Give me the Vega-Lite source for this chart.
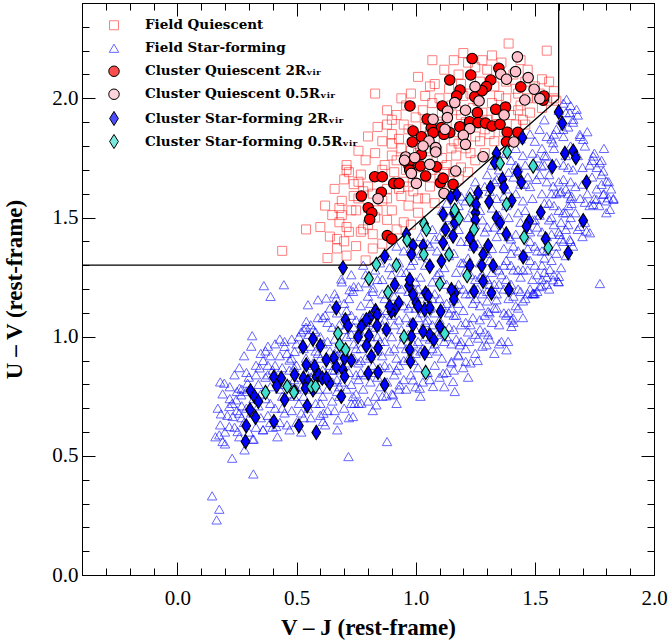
{
"$schema":"https://vega.github.io/schema/vega-lite/v6.json",
"width":572,"height":572,"autosize":"none",
"padding":{"left":82,"top":3,"right":15,"bottom":66},
"background":"white",
"datasets":{
"names":[{"c":"FQ","n":"Field Quiescent"},{"c":"FS","n":"Field Star-forming"},{"c":"CQ2","n":"Cluster Quiescent 2Rᵥᵢᵣ"},{"c":"CQ05","n":"Cluster Quiescent 0.5Rᵥᵢᵣ"},{"c":"CS2","n":"Cluster Star-forming 2Rᵥᵢᵣ"},{"c":"CS05","n":"Cluster Star-forming 0.5Rᵥᵢᵣ"}],
"lines":[{"x":-0.4,"y":1.3,"x2":0.807,"y2":1.3},{"x":0.807,"y":1.3,"x2":1.6,"y2":1.998},{"x":1.6,"y":1.998,"x2":1.6,"y2":2.4}],
"field":[
{"x":1.39,"y":2.23,"c":"FQ"},{"x":1.55,"y":2.2,"c":"FQ"},{"x":1.2,"y":2.19,"c":"FQ"},{"x":1.32,"y":2.18,"c":"FQ"},{"x":1.07,"y":2.16,"c":"FQ"},{"x":1.01,"y":2.09,"c":"FQ"},{"x":0.83,"y":2.02,"c":"FQ"},{"x":1.53,"y":2.08,"c":"FQ"},{"x":0.84,"y":1.88,"c":"FQ"},{"x":0.88,"y":1.89,"c":"FQ"},{"x":1.04,"y":2.01,"c":"FQ"},{"x":0.71,"y":1.72,"c":"FQ"},{"x":0.72,"y":1.69,"c":"FQ"},{"x":0.65,"y":1.51,"c":"FQ"},{"x":0.68,"y":1.54,"c":"FQ"},{"x":0.67,"y":1.41,"c":"FQ"},{"x":0.71,"y":1.34,"c":"FQ"},{"x":0.82,"y":1.37,"c":"FQ"},{"x":0.77,"y":1.44,"c":"FQ"},{"x":0.75,"y":1.53,"c":"FQ"},{"x":0.9,"y":1.81,"c":"FQ"},{"x":0.93,"y":1.83,"c":"FQ"},{"x":1.58,"y":2.03,"c":"FQ"},{"x":1.58,"y":2.0,"c":"FQ"},{"x":0.44,"y":1.36,"c":"FQ"},{"x":0.54,"y":1.45,"c":"FQ"},{"x":0.71,"y":1.46,"c":"FQ"},{"x":0.76,"y":1.65,"c":"FQ"},{"x":0.82,"y":1.43,"c":"FQ"},{"x":0.71,"y":1.7,"c":"FQ"},
{"x":1.12,"y":2.12,"c":"FQ"},{"x":1.25,"y":2.13,"c":"FQ"},{"x":1.3,"y":2.12,"c":"FQ"},{"x":1.36,"y":2.15,"c":"FQ"},{"x":1.41,"y":2.1,"c":"FQ"},{"x":1.47,"y":2.12,"c":"FQ"},{"x":1.18,"y":2.1,"c":"FQ"},{"x":1.22,"y":2.15,"c":"FQ"},{"x":1.16,"y":2.16,"c":"FQ"},{"x":1.28,"y":2.16,"c":"FQ"},{"x":1.44,"y":2.16,"c":"FQ"},
{"x":1.06,"y":2.05,"c":"FQ"},{"x":1.08,"y":2.06,"c":"FQ"},{"x":1.14,"y":2.04,"c":"FQ"},{"x":1.19,"y":2.06,"c":"FQ"},{"x":1.23,"y":2.02,"c":"FQ"},{"x":1.27,"y":2.07,"c":"FQ"},{"x":1.33,"y":2.05,"c":"FQ"},{"x":1.38,"y":2.07,"c":"FQ"},{"x":1.43,"y":2.02,"c":"FQ"},{"x":1.5,"y":2.05,"c":"FQ"},{"x":1.56,"y":2.07,"c":"FQ"},{"x":1.47,"y":2.0,"c":"FQ"},{"x":1.52,"y":2.02,"c":"FQ"},{"x":1.35,"y":2.01,"c":"FQ"},{"x":1.2,"y":2.01,"c":"FQ"},{"x":1.1,"y":2.0,"c":"FQ"},{"x":0.98,"y":2.02,"c":"FQ"},{"x":0.94,"y":2.0,"c":"FQ"},
{"x":0.88,"y":1.95,"c":"FQ"},{"x":0.92,"y":1.93,"c":"FQ"},{"x":0.96,"y":1.97,"c":"FQ"},{"x":1.0,"y":1.92,"c":"FQ"},{"x":1.03,"y":1.95,"c":"FQ"},{"x":1.07,"y":1.98,"c":"FQ"},{"x":1.11,"y":1.94,"c":"FQ"},{"x":1.15,"y":1.97,"c":"FQ"},{"x":1.19,"y":1.93,"c":"FQ"},{"x":1.24,"y":1.96,"c":"FQ"},{"x":1.28,"y":1.94,"c":"FQ"},{"x":1.32,"y":1.98,"c":"FQ"},{"x":1.36,"y":1.95,"c":"FQ"},{"x":1.4,"y":1.93,"c":"FQ"},{"x":1.44,"y":1.97,"c":"FQ"},{"x":1.48,"y":1.94,"c":"FQ"},{"x":1.53,"y":1.96,"c":"FQ"},{"x":1.59,"y":1.99,"c":"FQ"},{"x":1.05,"y":1.91,"c":"FQ"},{"x":1.3,"y":1.91,"c":"FQ"},{"x":1.45,"y":1.91,"c":"FQ"},{"x":0.9,"y":1.91,"c":"FQ"},
{"x":0.8,"y":1.84,"c":"FQ"},{"x":0.86,"y":1.82,"c":"FQ"},{"x":0.9,"y":1.85,"c":"FQ"},{"x":0.97,"y":1.87,"c":"FQ"},{"x":1.0,"y":1.84,"c":"FQ"},{"x":1.04,"y":1.88,"c":"FQ"},{"x":1.08,"y":1.83,"c":"FQ"},{"x":1.12,"y":1.86,"c":"FQ"},{"x":1.16,"y":1.82,"c":"FQ"},{"x":1.2,"y":1.88,"c":"FQ"},{"x":1.25,"y":1.84,"c":"FQ"},{"x":1.29,"y":1.87,"c":"FQ"},{"x":1.33,"y":1.82,"c":"FQ"},{"x":1.37,"y":1.86,"c":"FQ"},{"x":1.41,"y":1.84,"c":"FQ"},{"x":1.46,"y":1.89,"c":"FQ"},{"x":1.18,"y":1.81,"c":"FQ"},{"x":1.42,"y":1.89,"c":"FQ"},{"x":1.02,"y":1.8,"c":"FQ"},{"x":0.95,"y":1.89,"c":"FQ"},
{"x":0.76,"y":1.78,"c":"FQ"},{"x":0.79,"y":1.74,"c":"FQ"},{"x":0.83,"y":1.77,"c":"FQ"},{"x":0.87,"y":1.72,"c":"FQ"},{"x":0.9,"y":1.76,"c":"FQ"},{"x":0.94,"y":1.79,"c":"FQ"},{"x":0.97,"y":1.73,"c":"FQ"},{"x":1.01,"y":1.77,"c":"FQ"},{"x":1.05,"y":1.74,"c":"FQ"},{"x":1.09,"y":1.78,"c":"FQ"},{"x":1.13,"y":1.72,"c":"FQ"},{"x":1.17,"y":1.76,"c":"FQ"},{"x":1.21,"y":1.79,"c":"FQ"},{"x":1.25,"y":1.74,"c":"FQ"},{"x":1.29,"y":1.77,"c":"FQ"},
{"x":0.66,"y":1.62,"c":"FQ"},{"x":0.7,"y":1.66,"c":"FQ"},{"x":0.74,"y":1.64,"c":"FQ"},{"x":0.77,"y":1.68,"c":"FQ"},{"x":0.8,"y":1.63,"c":"FQ"},{"x":0.84,"y":1.67,"c":"FQ"},{"x":0.88,"y":1.62,"c":"FQ"},{"x":0.91,"y":1.69,"c":"FQ"},{"x":0.95,"y":1.65,"c":"FQ"},{"x":0.99,"y":1.61,"c":"FQ"},{"x":1.02,"y":1.68,"c":"FQ"},{"x":1.06,"y":1.63,"c":"FQ"},{"x":1.1,"y":1.67,"c":"FQ"},{"x":1.14,"y":1.61,"c":"FQ"},{"x":1.18,"y":1.66,"c":"FQ"},{"x":1.22,"y":1.69,"c":"FQ"},{"x":0.78,"y":1.61,"c":"FQ"},{"x":0.93,"y":1.62,"c":"FQ"},
{"x":0.62,"y":1.55,"c":"FQ"},{"x":0.69,"y":1.57,"c":"FQ"},{"x":0.73,"y":1.53,"c":"FQ"},{"x":0.76,"y":1.58,"c":"FQ"},{"x":0.8,"y":1.54,"c":"FQ"},{"x":0.83,"y":1.5,"c":"FQ"},{"x":0.86,"y":1.57,"c":"FQ"},{"x":0.9,"y":1.53,"c":"FQ"},{"x":0.94,"y":1.59,"c":"FQ"},{"x":0.97,"y":1.55,"c":"FQ"},{"x":1.01,"y":1.52,"c":"FQ"},{"x":1.04,"y":1.58,"c":"FQ"},{"x":1.08,"y":1.56,"c":"FQ"},
{"x":0.6,"y":1.46,"c":"FQ"},{"x":0.64,"y":1.42,"c":"FQ"},{"x":0.68,"y":1.48,"c":"FQ"},{"x":0.72,"y":1.44,"c":"FQ"},{"x":0.8,"y":1.47,"c":"FQ"},{"x":0.88,"y":1.49,"c":"FQ"},{"x":0.92,"y":1.45,"c":"FQ"},{"x":0.95,"y":1.48,"c":"FQ"},{"x":0.98,"y":1.47,"c":"FQ"},{"x":0.7,"y":1.4,"c":"FQ"},
{"x":0.63,"y":1.33,"c":"FQ"},{"x":0.67,"y":1.37,"c":"FQ"},{"x":0.75,"y":1.38,"c":"FQ"},{"x":0.79,"y":1.32,"c":"FQ"},{"x":0.86,"y":1.39,"c":"FQ"},
{"x":0.92,"y":1.74,"c":"FQ"},{"x":0.96,"y":1.7,"c":"FQ"},{"x":1.0,"y":1.71,"c":"FQ"},{"x":1.04,"y":1.79,"c":"FQ"},{"x":1.07,"y":1.7,"c":"FQ"},{"x":1.11,"y":1.75,"c":"FQ"},{"x":1.15,"y":1.79,"c":"FQ"},{"x":1.19,"y":1.71,"c":"FQ"},{"x":1.23,"y":1.77,"c":"FQ"},{"x":1.27,"y":1.82,"c":"FQ"},{"x":1.31,"y":1.85,"c":"FQ"},{"x":1.35,"y":1.89,"c":"FQ"},{"x":1.43,"y":1.95,"c":"FQ"},{"x":1.51,"y":2.0,"c":"FQ"},{"x":1.55,"y":1.99,"c":"FQ"},{"x":1.13,"y":1.9,"c":"FQ"},{"x":1.17,"y":1.95,"c":"FQ"},{"x":1.21,"y":1.9,"c":"FQ"},{"x":1.26,"y":1.99,"c":"FQ"},{"x":1.34,"y":1.93,"c":"FQ"},{"x":1.38,"y":2.0,"c":"FQ"},{"x":1.42,"y":2.04,"c":"FQ"},{"x":1.46,"y":2.07,"c":"FQ"},{"x":1.06,"y":1.86,"c":"FQ"},{"x":1.1,"y":1.89,"c":"FQ"},{"x":0.98,"y":1.78,"c":"FQ"},{"x":0.86,"y":1.7,"c":"FQ"},{"x":0.82,"y":1.6,"c":"FQ"},{"x":0.88,"y":1.58,"c":"FQ"},{"x":0.97,"y":1.63,"c":"FQ"},{"x":1.01,"y":1.58,"c":"FQ"},{"x":1.12,"y":1.69,"c":"FQ"},{"x":1.16,"y":1.69,"c":"FQ"},{"x":0.74,"y":1.59,"c":"FQ"},{"x":0.69,"y":1.51,"c":"FQ"},{"x":0.78,"y":1.45,"c":"FQ"},{"x":0.84,"y":1.53,"c":"FQ"},
{"x":0.16,"y":0.58,"c":"FS"},{"x":0.18,"y":0.63,"c":"FS"},{"x":0.2,"y":0.6,"c":"FS"},{"x":0.17,"y":0.7,"c":"FS"},{"x":0.21,"y":0.67,"c":"FS"},{"x":0.23,"y":0.72,"c":"FS"},{"x":0.19,"y":0.76,"c":"FS"},{"x":0.24,"y":0.62,"c":"FS"},{"x":0.22,"y":0.79,"c":"FS"},{"x":0.25,"y":0.69,"c":"FS"},{"x":0.2,"y":0.55,"c":"FS"},{"x":0.24,"y":0.84,"c":"FS"},{"x":0.18,"y":0.81,"c":"FS"},
{"x":0.26,"y":0.58,"c":"FS"},{"x":0.28,"y":0.64,"c":"FS"},{"x":0.27,"y":0.71,"c":"FS"},{"x":0.29,"y":0.77,"c":"FS"},{"x":0.31,"y":0.68,"c":"FS"},{"x":0.33,"y":0.62,"c":"FS"},{"x":0.3,"y":0.83,"c":"FS"},{"x":0.32,"y":0.74,"c":"FS"},{"x":0.34,"y":0.8,"c":"FS"},{"x":0.26,"y":0.87,"c":"FS"},{"x":0.28,"y":0.92,"c":"FS"},{"x":0.33,"y":0.88,"c":"FS"},{"x":0.35,"y":0.66,"c":"FS"},{"x":0.3,"y":0.6,"c":"FS"},{"x":0.27,"y":0.78,"c":"FS"},{"x":0.35,"y":0.93,"c":"FS"},{"x":0.31,"y":0.96,"c":"FS"},{"x":0.34,"y":0.71,"c":"FS"},{"x":0.29,"y":0.85,"c":"FS"},{"x":0.32,"y":0.57,"c":"FS"},
{"x":0.36,"y":0.61,"c":"FS"},{"x":0.38,"y":0.67,"c":"FS"},{"x":0.37,"y":0.74,"c":"FS"},{"x":0.39,"y":0.79,"c":"FS"},{"x":0.41,"y":0.7,"c":"FS"},{"x":0.43,"y":0.64,"c":"FS"},{"x":0.4,"y":0.86,"c":"FS"},{"x":0.42,"y":0.81,"c":"FS"},{"x":0.44,"y":0.75,"c":"FS"},{"x":0.36,"y":0.9,"c":"FS"},{"x":0.38,"y":0.96,"c":"FS"},{"x":0.43,"y":0.92,"c":"FS"},{"x":0.45,"y":0.68,"c":"FS"},{"x":0.4,"y":0.62,"c":"FS"},{"x":0.37,"y":0.83,"c":"FS"},{"x":0.45,"y":0.98,"c":"FS"},{"x":0.41,"y":0.97,"c":"FS"},{"x":0.44,"y":0.87,"c":"FS"},{"x":0.39,"y":0.72,"c":"FS"},{"x":0.42,"y":0.58,"c":"FS"},{"x":0.37,"y":0.94,"c":"FS"},{"x":0.43,"y":0.99,"c":"FS"},{"x":0.38,"y":0.88,"c":"FS"},{"x":0.45,"y":0.8,"c":"FS"},
{"x":0.46,"y":0.63,"c":"FS"},{"x":0.48,"y":0.69,"c":"FS"},{"x":0.47,"y":0.76,"c":"FS"},{"x":0.49,"y":0.82,"c":"FS"},{"x":0.51,"y":0.72,"c":"FS"},{"x":0.53,"y":0.66,"c":"FS"},{"x":0.5,"y":0.88,"c":"FS"},{"x":0.52,"y":0.79,"c":"FS"},{"x":0.54,"y":0.85,"c":"FS"},{"x":0.46,"y":0.93,"c":"FS"},{"x":0.48,"y":0.99,"c":"FS"},{"x":0.53,"y":0.95,"c":"FS"},{"x":0.55,"y":0.7,"c":"FS"},{"x":0.5,"y":0.64,"c":"FS"},{"x":0.47,"y":0.86,"c":"FS"},{"x":0.55,"y":1.01,"c":"FS"},{"x":0.51,"y":1.0,"c":"FS"},{"x":0.54,"y":0.91,"c":"FS"},{"x":0.49,"y":0.75,"c":"FS"},{"x":0.52,"y":1.02,"c":"FS"},{"x":0.53,"y":1.03,"c":"FS"},{"x":0.48,"y":0.91,"c":"FS"},{"x":0.55,"y":0.78,"c":"FS"},{"x":0.5,"y":0.97,"c":"FS"},{"x":0.52,"y":0.6,"c":"FS"},{"x":0.54,"y":1.04,"c":"FS"},
{"x":0.56,"y":0.66,"c":"FS"},{"x":0.58,"y":0.72,"c":"FS"},{"x":0.57,"y":0.79,"c":"FS"},{"x":0.59,"y":0.85,"c":"FS"},{"x":0.61,"y":0.75,"c":"FS"},{"x":0.63,"y":0.69,"c":"FS"},{"x":0.6,"y":0.91,"c":"FS"},{"x":0.62,"y":0.82,"c":"FS"},{"x":0.64,"y":0.88,"c":"FS"},{"x":0.56,"y":0.96,"c":"FS"},{"x":0.58,"y":1.02,"c":"FS"},{"x":0.63,"y":0.98,"c":"FS"},{"x":0.65,"y":0.73,"c":"FS"},{"x":0.6,"y":0.67,"c":"FS"},{"x":0.57,"y":0.89,"c":"FS"},{"x":0.65,"y":1.04,"c":"FS"},{"x":0.61,"y":1.08,"c":"FS"},{"x":0.64,"y":0.94,"c":"FS"},{"x":0.59,"y":0.78,"c":"FS"},{"x":0.62,"y":1.09,"c":"FS"},{"x":0.56,"y":1.05,"c":"FS"},{"x":0.63,"y":1.06,"c":"FS"},{"x":0.58,"y":0.94,"c":"FS"},{"x":0.65,"y":0.81,"c":"FS"},{"x":0.6,"y":1.0,"c":"FS"},{"x":0.57,"y":1.03,"c":"FS"},{"x":0.62,"y":0.63,"c":"FS"},{"x":0.64,"y":1.12,"c":"FS"},{"x":0.59,"y":1.08,"c":"FS"},{"x":0.61,"y":0.86,"c":"FS"},{"x":0.56,"y":0.83,"c":"FS"},
{"x":0.66,"y":0.69,"c":"FS"},{"x":0.68,"y":0.75,"c":"FS"},{"x":0.67,"y":0.82,"c":"FS"},{"x":0.69,"y":0.88,"c":"FS"},{"x":0.71,"y":0.78,"c":"FS"},{"x":0.73,"y":0.72,"c":"FS"},{"x":0.7,"y":0.94,"c":"FS"},{"x":0.72,"y":0.85,"c":"FS"},{"x":0.74,"y":0.91,"c":"FS"},{"x":0.66,"y":0.99,"c":"FS"},{"x":0.68,"y":1.05,"c":"FS"},{"x":0.73,"y":1.01,"c":"FS"},{"x":0.75,"y":0.76,"c":"FS"},{"x":0.7,"y":0.7,"c":"FS"},{"x":0.67,"y":0.92,"c":"FS"},{"x":0.75,"y":1.07,"c":"FS"},{"x":0.71,"y":1.11,"c":"FS"},{"x":0.74,"y":0.97,"c":"FS"},{"x":0.69,"y":0.81,"c":"FS"},{"x":0.72,"y":1.16,"c":"FS"},{"x":0.66,"y":1.18,"c":"FS"},{"x":0.73,"y":1.09,"c":"FS"},{"x":0.68,"y":0.97,"c":"FS"},{"x":0.75,"y":0.84,"c":"FS"},{"x":0.7,"y":1.03,"c":"FS"},{"x":0.67,"y":1.1,"c":"FS"},{"x":0.72,"y":0.66,"c":"FS"},{"x":0.74,"y":1.21,"c":"FS"},{"x":0.69,"y":1.23,"c":"FS"},{"x":0.71,"y":0.89,"c":"FS"},{"x":0.66,"y":0.86,"c":"FS"},{"x":0.73,"y":1.26,"c":"FS"},{"x":0.7,"y":1.14,"c":"FS"},
{"x":0.76,"y":0.72,"c":"FS"},{"x":0.78,"y":0.78,"c":"FS"},{"x":0.77,"y":0.85,"c":"FS"},{"x":0.79,"y":0.91,"c":"FS"},{"x":0.81,"y":0.81,"c":"FS"},{"x":0.83,"y":0.75,"c":"FS"},{"x":0.8,"y":0.97,"c":"FS"},{"x":0.82,"y":0.88,"c":"FS"},{"x":0.84,"y":0.94,"c":"FS"},{"x":0.76,"y":1.02,"c":"FS"},{"x":0.78,"y":1.08,"c":"FS"},{"x":0.83,"y":1.04,"c":"FS"},{"x":0.85,"y":0.79,"c":"FS"},{"x":0.8,"y":0.73,"c":"FS"},{"x":0.77,"y":0.95,"c":"FS"},{"x":0.85,"y":1.1,"c":"FS"},{"x":0.81,"y":1.14,"c":"FS"},{"x":0.84,"y":1.0,"c":"FS"},{"x":0.79,"y":0.84,"c":"FS"},{"x":0.82,"y":1.19,"c":"FS"},{"x":0.76,"y":1.21,"c":"FS"},{"x":0.83,"y":1.12,"c":"FS"},{"x":0.78,"y":1.0,"c":"FS"},{"x":0.85,"y":0.87,"c":"FS"},{"x":0.8,"y":1.06,"c":"FS"},{"x":0.77,"y":1.13,"c":"FS"},{"x":0.82,"y":0.69,"c":"FS"},{"x":0.84,"y":1.24,"c":"FS"},{"x":0.79,"y":1.26,"c":"FS"},{"x":0.81,"y":0.92,"c":"FS"},{"x":0.76,"y":0.89,"c":"FS"},{"x":0.83,"y":1.28,"c":"FS"},{"x":0.8,"y":1.17,"c":"FS"},{"x":0.78,"y":1.3,"c":"FS"},{"x":0.85,"y":1.31,"c":"FS"},
{"x":0.86,"y":0.75,"c":"FS"},{"x":0.88,"y":0.81,"c":"FS"},{"x":0.87,"y":0.88,"c":"FS"},{"x":0.89,"y":0.94,"c":"FS"},{"x":0.91,"y":0.84,"c":"FS"},{"x":0.93,"y":0.78,"c":"FS"},{"x":0.9,"y":1.0,"c":"FS"},{"x":0.92,"y":0.91,"c":"FS"},{"x":0.94,"y":0.97,"c":"FS"},{"x":0.86,"y":1.05,"c":"FS"},{"x":0.88,"y":1.11,"c":"FS"},{"x":0.93,"y":1.07,"c":"FS"},{"x":0.95,"y":0.82,"c":"FS"},{"x":0.9,"y":0.76,"c":"FS"},{"x":0.87,"y":0.98,"c":"FS"},{"x":0.95,"y":1.13,"c":"FS"},{"x":0.91,"y":1.17,"c":"FS"},{"x":0.94,"y":1.03,"c":"FS"},{"x":0.89,"y":0.87,"c":"FS"},{"x":0.92,"y":1.22,"c":"FS"},{"x":0.86,"y":1.24,"c":"FS"},{"x":0.93,"y":1.15,"c":"FS"},{"x":0.88,"y":1.03,"c":"FS"},{"x":0.95,"y":0.9,"c":"FS"},{"x":0.9,"y":1.09,"c":"FS"},{"x":0.87,"y":1.16,"c":"FS"},{"x":0.92,"y":0.72,"c":"FS"},{"x":0.94,"y":1.27,"c":"FS"},{"x":0.89,"y":1.29,"c":"FS"},{"x":0.91,"y":0.95,"c":"FS"},{"x":0.86,"y":0.92,"c":"FS"},{"x":0.93,"y":1.31,"c":"FS"},{"x":0.9,"y":1.2,"c":"FS"},{"x":0.88,"y":1.34,"c":"FS"},{"x":0.95,"y":1.36,"c":"FS"},{"x":0.92,"y":1.38,"c":"FS"},
{"x":0.96,"y":0.78,"c":"FS"},{"x":0.98,"y":0.84,"c":"FS"},{"x":0.97,"y":0.91,"c":"FS"},{"x":0.99,"y":0.97,"c":"FS"},{"x":1.01,"y":0.87,"c":"FS"},{"x":1.03,"y":0.81,"c":"FS"},{"x":1.0,"y":1.03,"c":"FS"},{"x":1.02,"y":0.94,"c":"FS"},{"x":1.04,"y":1.0,"c":"FS"},{"x":0.96,"y":1.08,"c":"FS"},{"x":0.98,"y":1.14,"c":"FS"},{"x":1.03,"y":1.1,"c":"FS"},{"x":1.05,"y":0.85,"c":"FS"},{"x":1.0,"y":0.79,"c":"FS"},{"x":0.97,"y":1.01,"c":"FS"},{"x":1.05,"y":1.16,"c":"FS"},{"x":1.01,"y":1.2,"c":"FS"},{"x":1.04,"y":1.06,"c":"FS"},{"x":0.99,"y":0.9,"c":"FS"},{"x":1.02,"y":1.25,"c":"FS"},{"x":0.96,"y":1.27,"c":"FS"},{"x":1.03,"y":1.18,"c":"FS"},{"x":0.98,"y":1.06,"c":"FS"},{"x":1.05,"y":0.93,"c":"FS"},{"x":1.0,"y":1.12,"c":"FS"},{"x":0.97,"y":1.19,"c":"FS"},{"x":1.02,"y":0.75,"c":"FS"},{"x":1.04,"y":1.3,"c":"FS"},{"x":0.99,"y":1.32,"c":"FS"},{"x":1.01,"y":0.98,"c":"FS"},{"x":0.96,"y":0.95,"c":"FS"},{"x":1.03,"y":1.34,"c":"FS"},{"x":1.0,"y":1.23,"c":"FS"},{"x":0.98,"y":1.37,"c":"FS"},{"x":1.05,"y":1.39,"c":"FS"},{"x":1.02,"y":1.42,"c":"FS"},{"x":1.04,"y":1.46,"c":"FS"},{"x":0.97,"y":1.41,"c":"FS"},
{"x":1.06,"y":0.82,"c":"FS"},{"x":1.08,"y":0.88,"c":"FS"},{"x":1.07,"y":0.95,"c":"FS"},{"x":1.09,"y":1.01,"c":"FS"},{"x":1.11,"y":0.91,"c":"FS"},{"x":1.13,"y":0.85,"c":"FS"},{"x":1.1,"y":1.07,"c":"FS"},{"x":1.12,"y":0.98,"c":"FS"},{"x":1.14,"y":1.04,"c":"FS"},{"x":1.06,"y":1.12,"c":"FS"},{"x":1.08,"y":1.18,"c":"FS"},{"x":1.13,"y":1.14,"c":"FS"},{"x":1.15,"y":0.89,"c":"FS"},{"x":1.1,"y":0.83,"c":"FS"},{"x":1.07,"y":1.05,"c":"FS"},{"x":1.15,"y":1.2,"c":"FS"},{"x":1.11,"y":1.24,"c":"FS"},{"x":1.14,"y":1.1,"c":"FS"},{"x":1.09,"y":0.94,"c":"FS"},{"x":1.12,"y":1.29,"c":"FS"},{"x":1.06,"y":1.31,"c":"FS"},{"x":1.13,"y":1.22,"c":"FS"},{"x":1.08,"y":1.1,"c":"FS"},{"x":1.15,"y":0.97,"c":"FS"},{"x":1.1,"y":1.16,"c":"FS"},{"x":1.07,"y":1.23,"c":"FS"},{"x":1.12,"y":0.79,"c":"FS"},{"x":1.14,"y":1.34,"c":"FS"},{"x":1.09,"y":1.36,"c":"FS"},{"x":1.11,"y":1.02,"c":"FS"},{"x":1.06,"y":0.99,"c":"FS"},{"x":1.13,"y":1.38,"c":"FS"},{"x":1.1,"y":1.27,"c":"FS"},{"x":1.08,"y":1.41,"c":"FS"},{"x":1.15,"y":1.43,"c":"FS"},{"x":1.12,"y":1.46,"c":"FS"},{"x":1.14,"y":1.5,"c":"FS"},{"x":1.07,"y":1.45,"c":"FS"},{"x":1.11,"y":1.53,"c":"FS"},{"x":1.13,"y":1.56,"c":"FS"},
{"x":1.16,"y":0.86,"c":"FS"},{"x":1.18,"y":0.92,"c":"FS"},{"x":1.17,"y":0.99,"c":"FS"},{"x":1.19,"y":1.05,"c":"FS"},{"x":1.21,"y":0.95,"c":"FS"},{"x":1.23,"y":0.89,"c":"FS"},{"x":1.2,"y":1.11,"c":"FS"},{"x":1.22,"y":1.02,"c":"FS"},{"x":1.24,"y":1.08,"c":"FS"},{"x":1.16,"y":1.16,"c":"FS"},{"x":1.18,"y":1.22,"c":"FS"},{"x":1.23,"y":1.18,"c":"FS"},{"x":1.25,"y":0.93,"c":"FS"},{"x":1.2,"y":0.87,"c":"FS"},{"x":1.17,"y":1.09,"c":"FS"},{"x":1.25,"y":1.24,"c":"FS"},{"x":1.21,"y":1.28,"c":"FS"},{"x":1.24,"y":1.14,"c":"FS"},{"x":1.19,"y":0.98,"c":"FS"},{"x":1.22,"y":1.33,"c":"FS"},{"x":1.16,"y":1.35,"c":"FS"},{"x":1.23,"y":1.26,"c":"FS"},{"x":1.18,"y":1.14,"c":"FS"},{"x":1.25,"y":1.01,"c":"FS"},{"x":1.2,"y":1.2,"c":"FS"},{"x":1.17,"y":1.27,"c":"FS"},{"x":1.22,"y":0.83,"c":"FS"},{"x":1.24,"y":1.38,"c":"FS"},{"x":1.19,"y":1.4,"c":"FS"},{"x":1.21,"y":1.06,"c":"FS"},{"x":1.16,"y":1.03,"c":"FS"},{"x":1.23,"y":1.42,"c":"FS"},{"x":1.2,"y":1.31,"c":"FS"},{"x":1.18,"y":1.45,"c":"FS"},{"x":1.25,"y":1.47,"c":"FS"},{"x":1.22,"y":1.5,"c":"FS"},{"x":1.24,"y":1.54,"c":"FS"},{"x":1.17,"y":1.49,"c":"FS"},{"x":1.21,"y":1.57,"c":"FS"},{"x":1.23,"y":1.61,"c":"FS"},{"x":1.19,"y":1.59,"c":"FS"},{"x":1.25,"y":1.65,"c":"FS"},
{"x":1.26,"y":0.9,"c":"FS"},{"x":1.28,"y":0.96,"c":"FS"},{"x":1.27,"y":1.03,"c":"FS"},{"x":1.29,"y":1.09,"c":"FS"},{"x":1.31,"y":0.99,"c":"FS"},{"x":1.33,"y":0.93,"c":"FS"},{"x":1.3,"y":1.15,"c":"FS"},{"x":1.32,"y":1.06,"c":"FS"},{"x":1.34,"y":1.12,"c":"FS"},{"x":1.26,"y":1.2,"c":"FS"},{"x":1.28,"y":1.26,"c":"FS"},{"x":1.33,"y":1.22,"c":"FS"},{"x":1.35,"y":0.97,"c":"FS"},{"x":1.3,"y":1.19,"c":"FS"},{"x":1.27,"y":1.13,"c":"FS"},{"x":1.35,"y":1.28,"c":"FS"},{"x":1.31,"y":1.32,"c":"FS"},{"x":1.34,"y":1.18,"c":"FS"},{"x":1.29,"y":1.02,"c":"FS"},{"x":1.32,"y":1.37,"c":"FS"},{"x":1.26,"y":1.39,"c":"FS"},{"x":1.33,"y":1.3,"c":"FS"},{"x":1.28,"y":1.18,"c":"FS"},{"x":1.35,"y":1.05,"c":"FS"},{"x":1.3,"y":1.24,"c":"FS"},{"x":1.27,"y":1.31,"c":"FS"},{"x":1.34,"y":1.42,"c":"FS"},{"x":1.29,"y":1.44,"c":"FS"},{"x":1.31,"y":1.1,"c":"FS"},{"x":1.33,"y":1.46,"c":"FS"},{"x":1.3,"y":1.35,"c":"FS"},{"x":1.28,"y":1.49,"c":"FS"},{"x":1.35,"y":1.51,"c":"FS"},{"x":1.32,"y":1.54,"c":"FS"},{"x":1.34,"y":1.58,"c":"FS"},{"x":1.27,"y":1.53,"c":"FS"},{"x":1.31,"y":1.61,"c":"FS"},{"x":1.33,"y":1.65,"c":"FS"},{"x":1.29,"y":1.63,"c":"FS"},{"x":1.35,"y":1.7,"c":"FS"},{"x":1.32,"y":1.72,"c":"FS"},{"x":1.3,"y":1.68,"c":"FS"},
{"x":1.36,"y":0.98,"c":"FS"},{"x":1.38,"y":1.09,"c":"FS"},{"x":1.37,"y":1.1,"c":"FS"},{"x":1.39,"y":1.16,"c":"FS"},{"x":1.41,"y":1.06,"c":"FS"},{"x":1.43,"y":1.12,"c":"FS"},{"x":1.4,"y":1.22,"c":"FS"},{"x":1.42,"y":1.13,"c":"FS"},{"x":1.44,"y":1.19,"c":"FS"},{"x":1.36,"y":1.26,"c":"FS"},{"x":1.38,"y":1.32,"c":"FS"},{"x":1.43,"y":1.28,"c":"FS"},{"x":1.45,"y":1.08,"c":"FS"},{"x":1.4,"y":1.07,"c":"FS"},{"x":1.37,"y":1.2,"c":"FS"},{"x":1.45,"y":1.34,"c":"FS"},{"x":1.41,"y":1.38,"c":"FS"},{"x":1.44,"y":1.25,"c":"FS"},{"x":1.39,"y":1.1,"c":"FS"},{"x":1.42,"y":1.43,"c":"FS"},{"x":1.36,"y":1.45,"c":"FS"},{"x":1.43,"y":1.36,"c":"FS"},{"x":1.38,"y":1.24,"c":"FS"},{"x":1.45,"y":1.15,"c":"FS"},{"x":1.4,"y":1.3,"c":"FS"},{"x":1.37,"y":1.37,"c":"FS"},{"x":1.44,"y":1.48,"c":"FS"},{"x":1.39,"y":1.5,"c":"FS"},{"x":1.41,"y":1.17,"c":"FS"},{"x":1.43,"y":1.52,"c":"FS"},{"x":1.4,"y":1.41,"c":"FS"},{"x":1.38,"y":1.55,"c":"FS"},{"x":1.45,"y":1.57,"c":"FS"},{"x":1.42,"y":1.6,"c":"FS"},{"x":1.44,"y":1.64,"c":"FS"},{"x":1.37,"y":1.59,"c":"FS"},{"x":1.41,"y":1.67,"c":"FS"},{"x":1.43,"y":1.71,"c":"FS"},{"x":1.39,"y":1.69,"c":"FS"},{"x":1.45,"y":1.76,"c":"FS"},{"x":1.42,"y":1.79,"c":"FS"},{"x":1.4,"y":1.74,"c":"FS"},{"x":1.44,"y":1.83,"c":"FS"},{"x":1.38,"y":1.77,"c":"FS"},
{"x":1.46,"y":1.16,"c":"FS"},{"x":1.48,"y":1.2,"c":"FS"},{"x":1.47,"y":1.18,"c":"FS"},{"x":1.49,"y":1.24,"c":"FS"},{"x":1.51,"y":1.19,"c":"FS"},{"x":1.53,"y":1.24,"c":"FS"},{"x":1.5,"y":1.3,"c":"FS"},{"x":1.52,"y":1.21,"c":"FS"},{"x":1.54,"y":1.27,"c":"FS"},{"x":1.46,"y":1.34,"c":"FS"},{"x":1.48,"y":1.4,"c":"FS"},{"x":1.53,"y":1.36,"c":"FS"},{"x":1.55,"y":1.22,"c":"FS"},{"x":1.5,"y":1.18,"c":"FS"},{"x":1.47,"y":1.28,"c":"FS"},{"x":1.55,"y":1.42,"c":"FS"},{"x":1.51,"y":1.46,"c":"FS"},{"x":1.54,"y":1.33,"c":"FS"},{"x":1.49,"y":1.18,"c":"FS"},{"x":1.52,"y":1.51,"c":"FS"},{"x":1.46,"y":1.53,"c":"FS"},{"x":1.53,"y":1.44,"c":"FS"},{"x":1.48,"y":1.32,"c":"FS"},{"x":1.55,"y":1.25,"c":"FS"},{"x":1.5,"y":1.38,"c":"FS"},{"x":1.47,"y":1.45,"c":"FS"},{"x":1.54,"y":1.56,"c":"FS"},{"x":1.49,"y":1.58,"c":"FS"},{"x":1.51,"y":1.26,"c":"FS"},{"x":1.53,"y":1.6,"c":"FS"},{"x":1.5,"y":1.49,"c":"FS"},{"x":1.48,"y":1.63,"c":"FS"},{"x":1.55,"y":1.65,"c":"FS"},{"x":1.52,"y":1.68,"c":"FS"},{"x":1.54,"y":1.72,"c":"FS"},{"x":1.47,"y":1.67,"c":"FS"},{"x":1.51,"y":1.75,"c":"FS"},{"x":1.53,"y":1.79,"c":"FS"},{"x":1.49,"y":1.77,"c":"FS"},{"x":1.55,"y":1.84,"c":"FS"},{"x":1.52,"y":1.87,"c":"FS"},{"x":1.5,"y":1.82,"c":"FS"},{"x":1.54,"y":1.91,"c":"FS"},{"x":1.48,"y":1.85,"c":"FS"},{"x":1.46,"y":1.72,"c":"FS"},
{"x":1.56,"y":1.2,"c":"FS"},{"x":1.58,"y":1.26,"c":"FS"},{"x":1.57,"y":1.32,"c":"FS"},{"x":1.59,"y":1.38,"c":"FS"},{"x":1.61,"y":1.29,"c":"FS"},{"x":1.63,"y":1.34,"c":"FS"},{"x":1.6,"y":1.44,"c":"FS"},{"x":1.62,"y":1.4,"c":"FS"},{"x":1.64,"y":1.47,"c":"FS"},{"x":1.56,"y":1.49,"c":"FS"},{"x":1.58,"y":1.55,"c":"FS"},{"x":1.63,"y":1.52,"c":"FS"},{"x":1.65,"y":1.4,"c":"FS"},{"x":1.6,"y":1.23,"c":"FS"},{"x":1.57,"y":1.43,"c":"FS"},{"x":1.65,"y":1.58,"c":"FS"},{"x":1.61,"y":1.61,"c":"FS"},{"x":1.64,"y":1.55,"c":"FS"},{"x":1.59,"y":1.35,"c":"FS"},{"x":1.62,"y":1.66,"c":"FS"},{"x":1.56,"y":1.68,"c":"FS"},{"x":1.63,"y":1.62,"c":"FS"},{"x":1.58,"y":1.47,"c":"FS"},{"x":1.65,"y":1.5,"c":"FS"},{"x":1.6,"y":1.53,"c":"FS"},{"x":1.57,"y":1.6,"c":"FS"},{"x":1.64,"y":1.71,"c":"FS"},{"x":1.59,"y":1.73,"c":"FS"},{"x":1.61,"y":1.41,"c":"FS"},{"x":1.63,"y":1.76,"c":"FS"},{"x":1.6,"y":1.65,"c":"FS"},{"x":1.58,"y":1.79,"c":"FS"},{"x":1.65,"y":1.8,"c":"FS"},{"x":1.62,"y":1.84,"c":"FS"},{"x":1.64,"y":1.88,"c":"FS"},{"x":1.57,"y":1.83,"c":"FS"},{"x":1.61,"y":1.91,"c":"FS"},{"x":1.63,"y":1.94,"c":"FS"},{"x":1.59,"y":1.87,"c":"FS"},{"x":1.65,"y":1.97,"c":"FS"},{"x":1.62,"y":1.98,"c":"FS"},{"x":1.6,"y":1.95,"c":"FS"},
{"x":1.66,"y":1.38,"c":"FS"},{"x":1.68,"y":1.45,"c":"FS"},{"x":1.67,"y":1.52,"c":"FS"},{"x":1.69,"y":1.58,"c":"FS"},{"x":1.71,"y":1.48,"c":"FS"},{"x":1.73,"y":1.55,"c":"FS"},{"x":1.7,"y":1.64,"c":"FS"},{"x":1.72,"y":1.6,"c":"FS"},{"x":1.74,"y":1.67,"c":"FS"},{"x":1.66,"y":1.7,"c":"FS"},{"x":1.68,"y":1.76,"c":"FS"},{"x":1.73,"y":1.72,"c":"FS"},{"x":1.75,"y":1.58,"c":"FS"},{"x":1.7,"y":1.42,"c":"FS"},{"x":1.67,"y":1.63,"c":"FS"},{"x":1.75,"y":1.77,"c":"FS"},{"x":1.71,"y":1.8,"c":"FS"},{"x":1.74,"y":1.74,"c":"FS"},{"x":1.69,"y":1.84,"c":"FS"},{"x":1.72,"y":1.86,"c":"FS"},{"x":1.66,"y":1.9,"c":"FS"},{"x":1.68,"y":1.93,"c":"FS"},{"x":1.7,"y":1.71,"c":"FS"},
{"x":1.76,"y":1.62,"c":"FS"},{"x":1.78,"y":1.68,"c":"FS"},{"x":1.77,"y":1.55,"c":"FS"},{"x":1.79,"y":1.6,"c":"FS"},{"x":1.81,"y":1.65,"c":"FS"},{"x":1.8,"y":1.57,"c":"FS"},{"x":1.82,"y":1.62,"c":"FS"},{"x":1.78,"y":1.74,"c":"FS"},{"x":1.76,"y":1.71,"c":"FS"},{"x":1.8,"y":1.52,"c":"FS"},{"x":1.83,"y":1.58,"c":"FS"},{"x":1.79,"y":1.79,"c":"FS"},
{"x":0.47,"y":0.8,"c":"FS"},{"x":0.49,"y":0.87,"c":"FS"},{"x":0.51,"y":0.83,"c":"FS"},{"x":0.53,"y":0.75,"c":"FS"},{"x":0.55,"y":0.88,"c":"FS"},{"x":0.57,"y":0.84,"c":"FS"},{"x":0.59,"y":0.93,"c":"FS"},{"x":0.61,"y":0.97,"c":"FS"},{"x":0.63,"y":0.78,"c":"FS"},{"x":0.65,"y":0.86,"c":"FS"},{"x":0.67,"y":0.77,"c":"FS"},{"x":0.69,"y":0.95,"c":"FS"},{"x":0.71,"y":1.0,"c":"FS"},{"x":0.73,"y":0.8,"c":"FS"},{"x":0.75,"y":0.95,"c":"FS"},{"x":0.77,"y":0.9,"c":"FS"},{"x":0.79,"y":1.05,"c":"FS"},{"x":0.81,"y":1.0,"c":"FS"},{"x":0.83,"y":0.85,"c":"FS"},{"x":0.85,"y":0.98,"c":"FS"},{"x":0.87,"y":1.07,"c":"FS"},{"x":0.89,"y":1.14,"c":"FS"},{"x":0.91,"y":1.05,"c":"FS"},{"x":0.93,"y":0.88,"c":"FS"},{"x":0.95,"y":1.0,"c":"FS"},{"x":0.97,"y":1.12,"c":"FS"},{"x":0.99,"y":1.2,"c":"FS"},{"x":1.01,"y":1.08,"c":"FS"},{"x":1.03,"y":0.95,"c":"FS"},{"x":1.05,"y":1.07,"c":"FS"},{"x":1.07,"y":1.16,"c":"FS"},{"x":1.09,"y":1.26,"c":"FS"},{"x":1.11,"y":1.13,"c":"FS"},{"x":1.13,"y":1.0,"c":"FS"},{"x":1.15,"y":1.12,"c":"FS"},{"x":1.17,"y":1.2,"c":"FS"},{"x":1.19,"y":1.31,"c":"FS"},{"x":1.21,"y":1.18,"c":"FS"},{"x":1.23,"y":1.05,"c":"FS"},{"x":1.25,"y":1.16,"c":"FS"},{"x":1.27,"y":1.25,"c":"FS"},{"x":1.29,"y":1.36,"c":"FS"},{"x":1.31,"y":1.22,"c":"FS"},{"x":1.33,"y":1.12,"c":"FS"},{"x":1.35,"y":1.22,"c":"FS"},{"x":1.37,"y":1.3,"c":"FS"},{"x":1.39,"y":1.42,"c":"FS"},{"x":1.41,"y":1.28,"c":"FS"},{"x":1.43,"y":1.2,"c":"FS"},{"x":1.45,"y":1.28,"c":"FS"},{"x":1.47,"y":1.37,"c":"FS"},{"x":1.49,"y":1.49,"c":"FS"},{"x":1.51,"y":1.36,"c":"FS"},{"x":1.53,"y":1.3,"c":"FS"},{"x":1.55,"y":1.36,"c":"FS"},{"x":1.57,"y":1.5,"c":"FS"},{"x":1.59,"y":1.6,"c":"FS"},{"x":1.61,"y":1.48,"c":"FS"},{"x":1.63,"y":1.45,"c":"FS"},{"x":1.65,"y":1.65,"c":"FS"},
{"x":0.5,"y":0.78,"c":"FS"},{"x":0.58,"y":0.8,"c":"FS"},{"x":0.66,"y":0.93,"c":"FS"},{"x":0.74,"y":1.04,"c":"FS"},{"x":0.82,"y":1.1,"c":"FS"},{"x":0.9,"y":1.26,"c":"FS"},{"x":0.98,"y":1.3,"c":"FS"},{"x":1.06,"y":1.38,"c":"FS"},{"x":1.14,"y":1.46,"c":"FS"},{"x":1.22,"y":1.4,"c":"FS"},{"x":1.3,"y":1.46,"c":"FS"},{"x":1.38,"y":1.62,"c":"FS"},{"x":1.46,"y":1.64,"c":"FS"},{"x":1.54,"y":1.76,"c":"FS"},{"x":1.62,"y":1.72,"c":"FS"},
{"x":0.44,"y":0.7,"c":"FS"},{"x":0.52,"y":0.68,"c":"FS"},{"x":0.6,"y":0.72,"c":"FS"},{"x":0.68,"y":0.79,"c":"FS"},{"x":0.76,"y":0.82,"c":"FS"},{"x":0.84,"y":0.83,"c":"FS"},{"x":0.92,"y":0.86,"c":"FS"},{"x":1.0,"y":0.93,"c":"FS"},{"x":1.08,"y":0.97,"c":"FS"},{"x":1.16,"y":1.09,"c":"FS"},{"x":1.24,"y":1.2,"c":"FS"},{"x":1.32,"y":1.27,"c":"FS"},{"x":1.4,"y":1.35,"c":"FS"},{"x":1.48,"y":1.44,"c":"FS"},{"x":1.56,"y":1.56,"c":"FS"},{"x":1.64,"y":1.6,"c":"FS"},
{"x":0.35,"y":0.76,"c":"FS"},{"x":0.33,"y":0.84,"c":"FS"},{"x":0.39,"y":0.92,"c":"FS"},{"x":0.41,"y":0.88,"c":"FS"},{"x":0.29,"y":0.7,"c":"FS"},{"x":0.25,"y":0.77,"c":"FS"},{"x":0.22,"y":0.74,"c":"FS"},{"x":0.27,"y":0.66,"c":"FS"},{"x":0.39,"y":0.64,"c":"FS"},{"x":0.43,"y":0.78,"c":"FS"},
{"x":0.86,"y":1.18,"c":"FS"},{"x":0.94,"y":1.2,"c":"FS"},{"x":1.02,"y":1.35,"c":"FS"},{"x":1.1,"y":1.42,"c":"FS"},{"x":1.18,"y":1.55,"c":"FS"},{"x":1.26,"y":1.6,"c":"FS"},{"x":1.34,"y":1.66,"c":"FS"},{"x":1.42,"y":1.72,"c":"FS"},{"x":1.5,"y":1.72,"c":"FS"},{"x":1.58,"y":1.85,"c":"FS"},
{"x":0.319,"y":0.424,"c":"FS"},{"x":0.23,"y":0.49,"c":"FS"},{"x":0.146,"y":0.332,"c":"FS"},{"x":0.176,"y":0.276,"c":"FS"},{"x":0.165,"y":0.231,"c":"FS"},{"x":0.718,"y":0.497,"c":"FS"},{"x":0.88,"y":0.56,"c":"FS"},{"x":0.671,"y":0.609,"c":"FS"},{"x":0.183,"y":0.676,"c":"FS"},{"x":0.176,"y":0.588,"c":"FS"},{"x":0.19,"y":0.56,"c":"FS"},{"x":0.218,"y":0.623,"c":"FS"},{"x":0.253,"y":0.602,"c":"FS"},{"x":0.26,"y":0.679,"c":"FS"},{"x":0.316,"y":0.57,"c":"FS"},{"x":0.282,"y":0.525,"c":"FS"},{"x":0.772,"y":0.721,"c":"FS"},{"x":0.835,"y":0.714,"c":"FS"},{"x":0.744,"y":0.721,"c":"FS"},{"x":0.611,"y":0.644,"c":"FS"},{"x":0.613,"y":0.679,"c":"FS"},{"x":0.471,"y":0.609,"c":"FS"},{"x":0.415,"y":0.623,"c":"FS"},{"x":0.359,"y":0.609,"c":"FS"},
{"x":0.363,"y":1.214,"c":"FS"},{"x":0.447,"y":1.218,"c":"FS"},{"x":0.391,"y":1.169,"c":"FS"},{"x":0.314,"y":1.004,"c":"FS"},{"x":0.541,"y":1.064,"c":"FS"},{"x":0.548,"y":1.134,"c":"FS"},{"x":0.197,"y":0.805,"c":"FS"},{"x":0.59,"y":1.155,"c":"FS"},{"x":0.625,"y":1.162,"c":"FS"},{"x":0.667,"y":1.162,"c":"FS"},{"x":0.723,"y":1.197,"c":"FS"},{"x":0.737,"y":1.19,"c":"FS"},{"x":0.688,"y":1.242,"c":"FS"},{"x":0.793,"y":1.226,"c":"FS"},{"x":0.821,"y":1.205,"c":"FS"},{"x":0.45,"y":0.959,"c":"FS"},{"x":0.492,"y":0.938,"c":"FS"},{"x":0.471,"y":0.902,"c":"FS"},{"x":0.345,"y":0.869,"c":"FS"},{"x":0.379,"y":0.84,"c":"FS"},{"x":0.295,"y":0.805,"c":"FS"},{"x":0.261,"y":0.784,"c":"FS"},{"x":0.268,"y":0.756,"c":"FS"},{"x":0.247,"y":0.735,"c":"FS"},{"x":0.218,"y":0.707,"c":"FS"},{"x":0.232,"y":0.665,"c":"FS"},{"x":0.737,"y":0.749,"c":"FS"},{"x":0.877,"y":0.752,"c":"FS"},{"x":0.905,"y":0.756,"c":"FS"},{"x":0.674,"y":0.651,"c":"FS"},{"x":0.737,"y":0.665,"c":"FS"},
{"x":1.773,"y":1.223,"c":"FS"},{"x":1.528,"y":1.214,"c":"FS"},{"x":1.496,"y":1.181,"c":"FS"},{"x":1.563,"y":1.282,"c":"FS"},{"x":1.601,"y":1.253,"c":"FS"},{"x":1.598,"y":1.232,"c":"FS"},{"x":1.577,"y":1.239,"c":"FS"},{"x":1.409,"y":1.079,"c":"FS"},{"x":1.402,"y":1.043,"c":"FS"},{"x":1.388,"y":0.98,"c":"FS"},{"x":1.381,"y":0.945,"c":"FS"},{"x":1.304,"y":1.008,"c":"FS"},{"x":1.297,"y":0.966,"c":"FS"},{"x":1.262,"y":0.994,"c":"FS"},{"x":1.224,"y":0.98,"c":"FS"},{"x":1.185,"y":0.966,"c":"FS"},{"x":1.178,"y":0.924,"c":"FS"},{"x":1.15,"y":0.896,"c":"FS"},{"x":1.21,"y":0.896,"c":"FS"},{"x":1.115,"y":0.847,"c":"FS"},{"x":1.157,"y":0.812,"c":"FS"},{"x":1.164,"y":0.77,"c":"FS"},{"x":1.073,"y":0.791,"c":"FS"},{"x":1.017,"y":0.784,"c":"FS"},{"x":0.989,"y":0.819,"c":"FS"},{"x":0.933,"y":0.798,"c":"FS"},{"x":1.269,"y":1.071,"c":"FS"},{"x":1.304,"y":1.106,"c":"FS"},{"x":1.339,"y":1.155,"c":"FS"},{"x":1.395,"y":1.197,"c":"FS"},{"x":1.619,"y":1.52,"c":"FS"},{"x":1.654,"y":1.559,"c":"FS"},{"x":1.71,"y":1.564,"c":"FS"},{"x":1.717,"y":1.443,"c":"FS"},{"x":1.731,"y":1.436,"c":"FS"},{"x":1.745,"y":1.555,"c":"FS"},{"x":1.815,"y":1.534,"c":"FS"},{"x":1.787,"y":1.597,"c":"FS"},{"x":1.829,"y":1.576,"c":"FS"},{"x":1.654,"y":1.59,"c":"FS"},{"x":1.605,"y":1.604,"c":"FS"},{"x":1.577,"y":1.632,"c":"FS"},
{"x":1.633,"y":1.996,"c":"FS"},{"x":1.675,"y":1.954,"c":"FS"},{"x":1.689,"y":1.849,"c":"FS"},{"x":1.703,"y":1.828,"c":"FS"},{"x":1.745,"y":1.758,"c":"FS"},{"x":1.773,"y":1.73,"c":"FS"},{"x":1.787,"y":1.695,"c":"FS"},{"x":1.801,"y":1.653,"c":"FS"},{"x":1.808,"y":1.583,"c":"FS"},{"x":1.78,"y":1.639,"c":"FS"},{"x":1.759,"y":1.576,"c":"FS"},{"x":1.647,"y":1.94,"c":"FS"},{"x":1.661,"y":1.912,"c":"FS"},{"x":1.619,"y":1.87,"c":"FS"},{"x":1.577,"y":1.814,"c":"FS"},{"x":1.549,"y":1.758,"c":"FS"},{"x":1.528,"y":1.716,"c":"FS"},{"x":1.507,"y":1.66,"c":"FS"},{"x":1.689,"y":1.463,"c":"FS"},{"x":1.605,"y":1.429,"c":"FS"},{"x":1.647,"y":1.408,"c":"FS"},{"x":1.493,"y":1.183,"c":"FS"}
],
"cluster":[
{"x":1.237,"y":2.167,"c":"CQ2"},{"x":1.231,"y":2.098,"c":"CQ2"},{"x":1.143,"y":2.077,"c":"CQ2"},{"x":1.315,"y":2.077,"c":"CQ2"},{"x":1.349,"y":2.126,"c":"CQ2"},{"x":1.297,"y":2.049,"c":"CQ2"},{"x":1.186,"y":2.035,"c":"CQ2"},{"x":1.248,"y":2.007,"c":"CQ2"},{"x":1.172,"y":2.01,"c":"CQ2"},{"x":1.279,"y":2.032,"c":"CQ2"},{"x":1.441,"y":2.048,"c":"CQ2"},{"x":1.535,"y":1.992,"c":"CQ2"},{"x":1.538,"y":2.01,"c":"CQ2"},{"x":0.976,"y":1.968,"c":"CQ2"},{"x":1.112,"y":1.968,"c":"CQ2"},{"x":1.259,"y":1.94,"c":"CQ2"},{"x":1.336,"y":1.954,"c":"CQ2"},{"x":1.377,"y":1.963,"c":"CQ2"},{"x":1.226,"y":1.902,"c":"CQ2"},{"x":1.262,"y":1.898,"c":"CQ2"},{"x":1.293,"y":1.896,"c":"CQ2"},{"x":1.185,"y":1.881,"c":"CQ2"},{"x":1.321,"y":1.884,"c":"CQ2"},{"x":1.354,"y":1.891,"c":"CQ2"},{"x":0.989,"y":1.863,"c":"CQ2"},{"x":1.066,"y":1.877,"c":"CQ2"},{"x":1.108,"y":1.877,"c":"CQ2"},{"x":1.143,"y":1.856,"c":"CQ2"},{"x":0.986,"y":1.817,"c":"CQ2"},{"x":1.024,"y":1.839,"c":"CQ2"},{"x":1.118,"y":1.849,"c":"CQ2"},{"x":1.384,"y":1.858,"c":"CQ2"},{"x":1.429,"y":1.857,"c":"CQ2"},{"x":1.381,"y":1.817,"c":"CQ2"},{"x":0.972,"y":1.718,"c":"CQ2"},{"x":1.02,"y":1.716,"c":"CQ2"},{"x":1.087,"y":1.713,"c":"CQ2"},{"x":1.042,"y":1.674,"c":"CQ2"},{"x":0.828,"y":1.671,"c":"CQ2"},{"x":0.86,"y":1.671,"c":"CQ2"},{"x":0.908,"y":1.643,"c":"CQ2"},{"x":0.93,"y":1.643,"c":"CQ2"},{"x":1.104,"y":1.646,"c":"CQ2"},{"x":1.157,"y":1.639,"c":"CQ2"},{"x":1.115,"y":1.664,"c":"CQ2"},{"x":0.772,"y":1.59,"c":"CQ2"},{"x":0.856,"y":1.606,"c":"CQ2"},{"x":0.801,"y":1.541,"c":"CQ2"},{"x":0.816,"y":1.52,"c":"CQ2"},{"x":0.807,"y":1.492,"c":"CQ2"},{"x":0.881,"y":1.424,"c":"CQ2"},{"x":0.9,"y":1.41,"c":"CQ2"},{"x":1.048,"y":1.913,"c":"CQ2"},{"x":1.073,"y":1.856,"c":"CQ2"},{"x":0.975,"y":1.737,"c":"CQ2"},{"x":0.975,"y":1.699,"c":"CQ2"},{"x":1.024,"y":1.765,"c":"CQ2"},
{"x":1.427,"y":2.174,"c":"CQ05"},{"x":1.419,"y":2.112,"c":"CQ05"},{"x":1.357,"y":2.101,"c":"CQ05"},{"x":1.381,"y":2.08,"c":"CQ05"},{"x":1.472,"y":2.087,"c":"CQ05"},{"x":1.497,"y":2.038,"c":"CQ05"},{"x":1.458,"y":1.993,"c":"CQ05"},{"x":1.521,"y":1.999,"c":"CQ05"},{"x":1.266,"y":1.989,"c":"CQ05"},{"x":1.249,"y":2.049,"c":"CQ05"},{"x":1.164,"y":1.982,"c":"CQ05"},{"x":1.209,"y":1.95,"c":"CQ05"},{"x":1.134,"y":1.947,"c":"CQ05"},{"x":1.133,"y":1.919,"c":"CQ05"},{"x":1.073,"y":1.912,"c":"CQ05"},{"x":1.371,"y":1.93,"c":"CQ05"},{"x":1.227,"y":1.873,"c":"CQ05"},{"x":1.123,"y":1.87,"c":"CQ05"},{"x":1.056,"y":1.821,"c":"CQ05"},{"x":1.2,"y":1.845,"c":"CQ05"},{"x":1.209,"y":1.807,"c":"CQ05"},{"x":1.084,"y":1.793,"c":"CQ05"},{"x":1.084,"y":1.775,"c":"CQ05"},{"x":0.958,"y":1.754,"c":"CQ05"},{"x":0.996,"y":1.751,"c":"CQ05"},{"x":0.953,"y":1.74,"c":"CQ05"},{"x":1.059,"y":1.723,"c":"CQ05"},{"x":0.982,"y":1.685,"c":"CQ05"},{"x":1.003,"y":1.643,"c":"CQ05"},{"x":1.168,"y":1.695,"c":"CQ05"},{"x":1.283,"y":1.755,"c":"CQ05"},{"x":1.412,"y":1.817,"c":"CQ05"},{"x":1.119,"y":1.601,"c":"CQ05"},{"x":0.842,"y":1.579,"c":"CQ05"},{"x":1.031,"y":1.8,"c":"CQ05"},
{"x":1.6,"y":1.943,"c":"CS2"},{"x":1.615,"y":1.895,"c":"CS2"},{"x":1.626,"y":1.769,"c":"CS2"},{"x":1.661,"y":1.779,"c":"CS2"},{"x":1.672,"y":1.751,"c":"CS2"},{"x":1.573,"y":1.713,"c":"CS2"},{"x":1.717,"y":1.648,"c":"CS2"},{"x":1.703,"y":1.487,"c":"CS2"},{"x":1.525,"y":1.522,"c":"CS2"},{"x":1.476,"y":1.484,"c":"CS2"},{"x":1.465,"y":1.463,"c":"CS2"},{"x":1.545,"y":1.41,"c":"CS2"},{"x":1.64,"y":1.352,"c":"CS2"},{"x":1.451,"y":1.335,"c":"CS2"},{"x":1.448,"y":1.835,"c":"CS2"},{"x":1.427,"y":1.69,"c":"CS2"},{"x":1.443,"y":1.648,"c":"CS2"},{"x":1.403,"y":1.571,"c":"CS2"},{"x":1.339,"y":1.769,"c":"CS2"},{"x":1.332,"y":1.73,"c":"CS2"},{"x":1.364,"y":1.66,"c":"CS2"},{"x":1.37,"y":1.627,"c":"CS2"},{"x":1.314,"y":1.625,"c":"CS2"},{"x":1.262,"y":1.604,"c":"CS2"},{"x":1.308,"y":1.566,"c":"CS2"},{"x":1.339,"y":1.499,"c":"CS2"},{"x":1.354,"y":1.478,"c":"CS2"},{"x":1.38,"y":1.431,"c":"CS2"},{"x":1.251,"y":1.52,"c":"CS2"},{"x":1.25,"y":1.49,"c":"CS2"},{"x":1.172,"y":1.597,"c":"CS2"},{"x":1.147,"y":1.585,"c":"CS2"},{"x":1.115,"y":1.513,"c":"CS2"},{"x":1.164,"y":1.478,"c":"CS2"},{"x":1.125,"y":1.45,"c":"CS2"},{"x":1.157,"y":1.422,"c":"CS2"},{"x":1.227,"y":1.415,"c":"CS2"},{"x":1.244,"y":1.38,"c":"CS2"},{"x":1.304,"y":1.382,"c":"CS2"},{"x":1.283,"y":1.345,"c":"CS2"},{"x":0.989,"y":1.382,"c":"CS2"},{"x":1.031,"y":1.38,"c":"CS2"},{"x":1.115,"y":1.394,"c":"CS2"},{"x":1.108,"y":1.317,"c":"CS2"},{"x":1.059,"y":1.295,"c":"CS2"},{"x":0.87,"y":1.337,"c":"CS2"},{"x":0.695,"y":1.289,"c":"CS2"},{"x":0.961,"y":1.429,"c":"CS2"},{"x":0.912,"y":1.218,"c":"CS2"},{"x":0.972,"y":1.214,"c":"CS2"},{"x":0.975,"y":1.239,"c":"CS2"},{"x":1.042,"y":1.183,"c":"CS2"},{"x":1.245,"y":1.19,"c":"CS2"},{"x":1.318,"y":1.183,"c":"CS2"},{"x":1.391,"y":1.197,"c":"CS2"},{"x":1.283,"y":1.232,"c":"CS2"},{"x":1.277,"y":1.298,"c":"CS2"},{"x":1.325,"y":1.298,"c":"CS2"},{"x":1.161,"y":1.52,"c":"CS2"},{"x":1.164,"y":1.183,"c":"CS2"},
{"x":1.253,"y":1.555,"c":"CS2"},{"x":1.227,"y":1.298,"c":"CS2"},{"x":1.15,"y":1.197,"c":"CS2"},{"x":1.16,"y":1.158,"c":"CS2"},{"x":1.052,"y":1.172,"c":"CS2"},{"x":0.989,"y":1.176,"c":"CS2"},{"x":1.003,"y":1.142,"c":"CS2"},{"x":1.01,"y":1.127,"c":"CS2"},{"x":1.038,"y":1.113,"c":"CS2"},{"x":1.059,"y":1.121,"c":"CS2"},{"x":1.105,"y":1.106,"c":"CS2"},{"x":1.101,"y":1.043,"c":"CS2"},{"x":0.929,"y":1.142,"c":"CS2"},{"x":0.912,"y":1.113,"c":"CS2"},{"x":0.898,"y":1.106,"c":"CS2"},{"x":0.891,"y":1.127,"c":"CS2"},{"x":0.877,"y":1.029,"c":"CS2"},{"x":0.989,"y":1.05,"c":"CS2"},{"x":0.982,"y":1.001,"c":"CS2"},{"x":0.975,"y":0.945,"c":"CS2"},{"x":0.978,"y":0.896,"c":"CS2"},{"x":1.031,"y":1.022,"c":"CS2"},{"x":1.059,"y":1.008,"c":"CS2"},{"x":1.076,"y":0.987,"c":"CS2"},{"x":1.038,"y":0.931,"c":"CS2"},{"x":0.87,"y":0.798,"c":"CS2"},{"x":0.982,"y":1.345,"c":"CS2"},
{"x":0.667,"y":1.121,"c":"CS2"},{"x":0.705,"y":1.071,"c":"CS2"},{"x":0.716,"y":1.046,"c":"CS2"},{"x":0.772,"y":1.043,"c":"CS2"},{"x":0.758,"y":0.999,"c":"CS2"},{"x":0.807,"y":1.079,"c":"CS2"},{"x":0.793,"y":1.071,"c":"CS2"},{"x":0.832,"y":1.109,"c":"CS2"},{"x":0.839,"y":1.092,"c":"CS2"},{"x":0.838,"y":1.046,"c":"CS2"},{"x":0.804,"y":1.004,"c":"CS2"},{"x":0.793,"y":0.962,"c":"CS2"},{"x":0.814,"y":0.917,"c":"CS2"},{"x":0.842,"y":0.952,"c":"CS2"},{"x":0.842,"y":0.85,"c":"CS2"},{"x":0.801,"y":0.847,"c":"CS2"},{"x":0.569,"y":0.99,"c":"CS2"},{"x":0.6,"y":0.962,"c":"CS2"},{"x":0.527,"y":0.957,"c":"CS2"},{"x":0.657,"y":0.91,"c":"CS2"},{"x":0.625,"y":0.903,"c":"CS2"},{"x":0.702,"y":0.91,"c":"CS2"},{"x":0.667,"y":0.873,"c":"CS2"},{"x":0.73,"y":0.9,"c":"CS2"},{"x":0.695,"y":0.861,"c":"CS2"},{"x":0.541,"y":0.882,"c":"CS2"},{"x":0.576,"y":0.875,"c":"CS2"},{"x":0.492,"y":0.84,"c":"CS2"},{"x":0.529,"y":0.826,"c":"CS2"},{"x":0.548,"y":0.812,"c":"CS2"},{"x":0.583,"y":0.833,"c":"CS2"},{"x":0.594,"y":0.84,"c":"CS2"},{"x":0.608,"y":0.826,"c":"CS2"},{"x":0.639,"y":0.805,"c":"CS2"},{"x":0.625,"y":0.826,"c":"CS2"},{"x":0.702,"y":0.833,"c":"CS2"},{"x":0.436,"y":0.826,"c":"CS2"},{"x":0.405,"y":0.83,"c":"CS2"},{"x":0.417,"y":0.794,"c":"CS2"},{"x":0.45,"y":0.735,"c":"CS2"},{"x":0.545,"y":0.71,"c":"CS2"},{"x":0.51,"y":0.626,"c":"CS2"},{"x":0.583,"y":0.598,"c":"CS2"},{"x":0.688,"y":0.749,"c":"CS2"},{"x":0.307,"y":0.773,"c":"CS2"},{"x":0.324,"y":0.749,"c":"CS2"},{"x":0.34,"y":0.728,"c":"CS2"},{"x":0.305,"y":0.693,"c":"CS2"},{"x":0.328,"y":0.661,"c":"CS2"},{"x":0.289,"y":0.626,"c":"CS2"},{"x":0.286,"y":0.56,"c":"CS2"},{"x":0.405,"y":0.644,"c":"CS2"},{"x":0.492,"y":0.77,"c":"CS2"},{"x":0.538,"y":0.784,"c":"CS2"},{"x":0.569,"y":0.777,"c":"CS2"},
{"x":1.384,"y":1.775,"c":"CS05"},{"x":1.354,"y":1.727,"c":"CS05"},{"x":1.493,"y":1.716,"c":"CS05"},{"x":1.227,"y":1.576,"c":"CS05"},{"x":1.381,"y":1.555,"c":"CS05"},{"x":1.164,"y":1.531,"c":"CS05"},{"x":1.182,"y":1.496,"c":"CS05"},{"x":1.245,"y":1.45,"c":"CS05"},{"x":1.035,"y":1.474,"c":"CS05"},{"x":1.045,"y":1.45,"c":"CS05"},{"x":0.964,"y":1.405,"c":"CS05"},{"x":1.034,"y":1.345,"c":"CS05"},{"x":0.919,"y":1.3,"c":"CS05"},{"x":1.14,"y":1.345,"c":"CS05"},{"x":0.835,"y":1.303,"c":"CS05"},{"x":0.804,"y":1.244,"c":"CS05"},{"x":1.216,"y":1.256,"c":"CS05"},{"x":1.101,"y":1.221,"c":"CS05"},{"x":1.455,"y":1.417,"c":"CS05"},{"x":1.556,"y":1.373,"c":"CS05"},{"x":0.884,"y":1.186,"c":"CS05"},{"x":0.951,"y":0.999,"c":"CS05"},{"x":1.122,"y":1.013,"c":"CS05"},{"x":1.042,"y":0.85,"c":"CS05"},{"x":0.674,"y":1.013,"c":"CS05"},{"x":0.681,"y":0.966,"c":"CS05"},{"x":0.706,"y":0.945,"c":"CS05"},{"x":0.37,"y":0.766,"c":"CS05"},{"x":0.461,"y":0.791,"c":"CS05"},{"x":0.489,"y":0.766,"c":"CS05"},{"x":0.562,"y":0.791,"c":"CS05"},{"x":0.58,"y":0.791,"c":"CS05"}
]
},
"config":{
"view":{"stroke":"black","strokeWidth":1},
"axis":{"domainColor":"black","domainWidth":1,"tickColor":"black","tickWidth":1,"labelFont":"Liberation Serif","labelFontSize":21,"labelColor":"black","titleFont":"Liberation Serif","titleFontSize":23,"titleFontWeight":"bold","titleColor":"black","grid":false,"labelFlush":false,"labelOverlap":false},
"legend":{"orient":"none","legendX":24,"legendY":15.5,"padding":0,"labelFont":"DejaVu Serif","labelFontSize":13.5,"labelFontWeight":"bold","labelColor":"black","labelLimit":400,"rowPadding":3,"gridAlign":"all","labelOffset":23,"symbolStrokeWidth":1}
},
"resolve":{"axis":{"x":"independent","y":"independent"}},
"layer":[
{"data":{"name":"field"},
"transform":[{"lookup":"c","from":{"data":{"name":"names"},"key":"c","fields":["n"]}}],
"mark":{"type":"point","strokeWidth":1},
"encoding":{
"x":{"field":"x","type":"quantitative","scale":{"domain":[-0.4,2.0],"nice":false,"zero":false},
"axis":{"orient":"bottom","values":[-0.4,-0.3,-0.2,-0.1,0,0.1,0.2,0.3,0.4,0.5,0.6,0.7,0.8,0.9,1.0,1.1,1.2,1.3,1.4,1.5,1.6,1.7,1.8,1.9,2.0],"labelExpr":"abs(datum.value*2-round(datum.value*2))<0.001 ? format(datum.value,'.1f') : ''","tickSize":{"condition":{"test":"abs(datum.value*2-round(datum.value*2))<0.001","value":-13},"value":-7},"labelPadding":25,"title":"V – J (rest-frame)","titleY":41}},
"y":{"field":"y","type":"quantitative","scale":{"domain":[0,2.4],"nice":false,"zero":false},
"axis":{"orient":"left","values":[0,0.1,0.2,0.3,0.4,0.5,0.6,0.7,0.8,0.9,1.0,1.1,1.2,1.3,1.4,1.5,1.6,1.7,1.8,1.9,2.0,2.1,2.2,2.3,2.4],"labelExpr":"abs(datum.value*2-round(datum.value*2))<0.001 ? format(datum.value,'.1f') : ''","tickSize":{"condition":{"test":"abs(datum.value*2-round(datum.value*2))<0.001","value":-13},"value":-7},"labelPadding":17,"title":"U – V (rest-frame)","titleX":-56}},
"shape":{"field":"n","type":"nominal","title":null,"scale":{"domain":["Field Quiescent","Field Star-forming","Cluster Quiescent 2Rᵥᵢᵣ","Cluster Quiescent 0.5Rᵥᵢᵣ","Cluster Star-forming 2Rᵥᵢᵣ","Cluster Star-forming 0.5Rᵥᵢᵣ"],"range":["square","triangle-up","circle","circle","M0,-1L0.62,0L0,1L-0.62,0Z","M0,-1L0.62,0L0,1L-0.62,0Z"]}},
"fill":{"field":"n","type":"nominal","title":null,"scale":{"domain":["Field Quiescent","Field Star-forming","Cluster Quiescent 2Rᵥᵢᵣ","Cluster Quiescent 0.5Rᵥᵢᵣ","Cluster Star-forming 2Rᵥᵢᵣ","Cluster Star-forming 0.5Rᵥᵢᵣ"],"range":["transparent","transparent","#ff0000","#ffc0cb","#0000ff","#40e0d0"]}},
"stroke":{"field":"n","type":"nominal","title":null,"scale":{"domain":["Field Quiescent","Field Star-forming","Cluster Quiescent 2Rᵥᵢᵣ","Cluster Quiescent 0.5Rᵥᵢᵣ","Cluster Star-forming 2Rᵥᵢᵣ","Cluster Star-forming 0.5Rᵥᵢᵣ"],"range":["#ff0000","#0000ff","#000000","#000000","#000000","#000000"]}},
"size":{"field":"n","type":"nominal","title":null,"scale":{"type":"ordinal","domain":["Field Quiescent","Field Star-forming","Cluster Quiescent 2Rᵥᵢᵣ","Cluster Quiescent 0.5Rᵥᵢᵣ","Cluster Star-forming 2Rᵥᵢᵣ","Cluster Star-forming 0.5Rᵥᵢᵣ"],"range":[81,90,110,110,200,200]}},
"opacity":{"field":"n","type":"nominal","title":null,"scale":{"type":"ordinal","domain":["Field Quiescent","Field Star-forming","Cluster Quiescent 2Rᵥᵢᵣ","Cluster Quiescent 0.5Rᵥᵢᵣ","Cluster Star-forming 2Rᵥᵢᵣ","Cluster Star-forming 0.5Rᵥᵢᵣ"],"range":[0.5,0.6,1,1,1,1]}}
}},
{"data":{"name":"lines"},
"mark":{"type":"rule","color":"black","strokeWidth":1.3},
"encoding":{
"x":{"field":"x","type":"quantitative","scale":{"domain":[-0.4,2.0],"nice":false,"zero":false},
"axis":{"orient":"top","values":[-0.4,-0.3,-0.2,-0.1,0,0.1,0.2,0.3,0.4,0.5,0.6,0.7,0.8,0.9,1.0,1.1,1.2,1.3,1.4,1.5,1.6,1.7,1.8,1.9,2.0],"labels":false,"title":null,"tickSize":{"condition":{"test":"abs(datum.value*2-round(datum.value*2))<0.001","value":-13},"value":-7}}},
"y":{"field":"y","type":"quantitative","scale":{"domain":[0,2.4],"nice":false,"zero":false},
"axis":{"orient":"right","values":[0,0.1,0.2,0.3,0.4,0.5,0.6,0.7,0.8,0.9,1.0,1.1,1.2,1.3,1.4,1.5,1.6,1.7,1.8,1.9,2.0,2.1,2.2,2.3,2.4],"labels":false,"title":null,"tickSize":{"condition":{"test":"abs(datum.value*2-round(datum.value*2))<0.001","value":-13},"value":-7}}},
"x2":{"field":"x2"},"y2":{"field":"y2"}
}},
{"data":{"name":"cluster"},
"transform":[{"lookup":"c","from":{"data":{"name":"names"},"key":"c","fields":["n"]}}],
"mark":{"type":"point","strokeWidth":1.1},
"encoding":{
"x":{"field":"x","type":"quantitative","scale":{"domain":[-0.4,2.0],"nice":false,"zero":false},"axis":null},
"y":{"field":"y","type":"quantitative","scale":{"domain":[0,2.4],"nice":false,"zero":false},"axis":null},
"shape":{"field":"n","type":"nominal","title":null},
"fill":{"field":"n","type":"nominal","title":null},
"stroke":{"field":"n","type":"nominal","title":null},
"size":{"field":"n","type":"nominal","title":null,"scale":{"type":"ordinal"}},
"opacity":{"field":"n","type":"nominal","title":null,"scale":{"type":"ordinal"}}
}}
]
}
